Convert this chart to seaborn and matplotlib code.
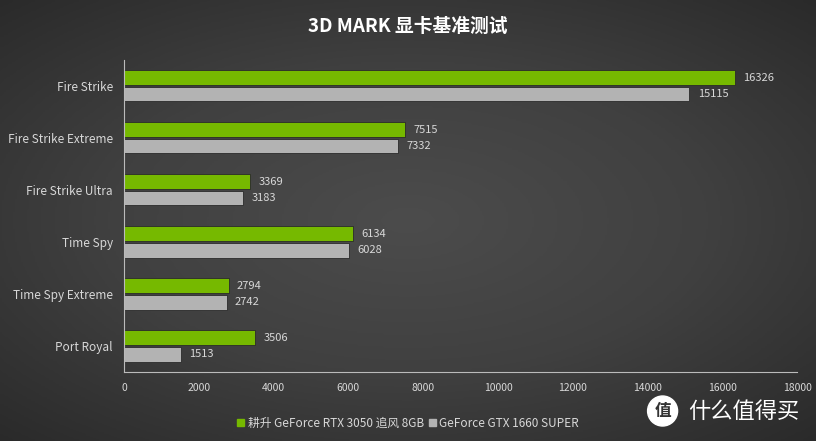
import numpy as np
import pandas as pd
import matplotlib
matplotlib.use("Agg")
import matplotlib.pyplot as plt
import seaborn as sns
from matplotlib.patches import Ellipse

sns.set_style("dark")
plt.rcParams['font.family'] = ['Noto Sans CJK SC', 'DejaVu Sans']

# data
tests = ["Fire Strike", "Fire Strike Extreme", "Fire Strike Ultra",
         "Time Spy", "Time Spy Extreme", "Port Royal"]
rtx3050 = [16326, 7515, 3369, 6134, 2794, 3506]
gtx1660s = [15115, 7332, 3183, 6028, 2742, 1513]
series_names = ["耕升 GeForce RTX 3050 追风 8GB", "GeForce GTX 1660 SUPER"]
x_ticks = [0, 2000, 4000, 6000, 8000, 10000, 12000, 14000, 16000, 18000]

df = pd.DataFrame({
    "test": tests * 2,
    "score": rtx3050 + gtx1660s,
    "card": [series_names[0]] * len(tests) + [series_names[1]] * len(tests),
})

green = "#76b900"
grey = "#b3b3b3"
text_col = "#d8d8d8"

fig = plt.figure(figsize=(8.16, 4.41), dpi=100)

# radial-ish dark background
bg = fig.add_axes([0, 0, 1, 1])
yy, xx = np.mgrid[-1:1:200j, -1:1:400j]
r = np.sqrt((xx * 0.85) ** 2 + (yy * 0.9) ** 2)
bg.imshow(r, cmap=matplotlib.colors.LinearSegmentedColormap.from_list(
    "bgc", ["#4c4c4c", "#404040", "#2a2a2a"]), aspect="auto",
    extent=[0, 1, 0, 1], vmin=0, vmax=1.25)
bg.set_xlim(0, 1)
bg.set_ylim(0, 1)
bg.axis("off")

ax = fig.add_axes([0.152, 0.1565, 0.825, 0.7075])
ax.set_facecolor("none")
sns.barplot(data=df, y="test", x="score", hue="card", orient="h",
            palette=[green, grey], ax=ax, width=0.635, gap=0.12,
            legend=False, saturation=1)

for cont in ax.containers:
    for bar in cont:
        bar.set_edgecolor("#2a2a2a")
        bar.set_linewidth(0.6)
    ax.bar_label(cont, padding=6, color=text_col, fontsize=8)

ax.set_xlim(0, 18000)
ax.set_ylim(len(tests) - 0.5, -0.5)
ax.set_xticks(x_ticks)
ax.set_xticklabels([str(t) for t in x_ticks], color=text_col, fontsize=7.5)
ax.set_yticks(range(len(tests)))
ax.set_yticklabels(tests, color=text_col, fontsize=8.5)
ax.tick_params(axis="y", length=0, pad=8)
ax.set_yticks(np.arange(-0.5, len(tests), 1), minor=True)
ax.tick_params(axis="y", which="minor", length=5, color="#bbbbbb", direction="out")
ax.tick_params(axis="x", length=4, color="#bbbbbb", direction="out", pad=4)
ax.set_xlabel("")
ax.set_ylabel("")
ax.grid(False)
for s in ["top", "right"]:
    ax.spines[s].set_visible(False)
for s in ["left", "bottom"]:
    ax.spines[s].set_visible(True)
    ax.spines[s].set_color("#bbbbbb")
    ax.spines[s].set_linewidth(0.8)

fig.text(0.5, 0.94, "3D MARK 显卡基准测试", ha="center", va="center",
         color="white", fontsize=13.5, fontweight="bold")

# legend
handles = [plt.Rectangle((0, 0), 1, 1, color=green),
           plt.Rectangle((0, 0), 1, 1, color=grey)]
fig.legend(handles, series_names, loc="center", bbox_to_anchor=(0.5, 0.04),
           ncol=2, frameon=False, fontsize=8.5, labelcolor=text_col,
           handlelength=0.6, handleheight=0.6, handletextpad=0.3,
           columnspacing=0.4)

# watermark
bg.add_patch(Ellipse((0.812, 0.068), 30 / 816, 30 / 441, color="white", zorder=5))
fig.text(0.812, 0.068, "值", ha="center", va="center", color="#333333",
         fontsize=12, fontweight="bold", zorder=6)
fig.text(0.843, 0.068, "什么值得买", ha="left", va="center", color="white",
         fontsize=16, zorder=6)

fig.savefig("out.png", dpi=100, facecolor=fig.get_facecolor())
